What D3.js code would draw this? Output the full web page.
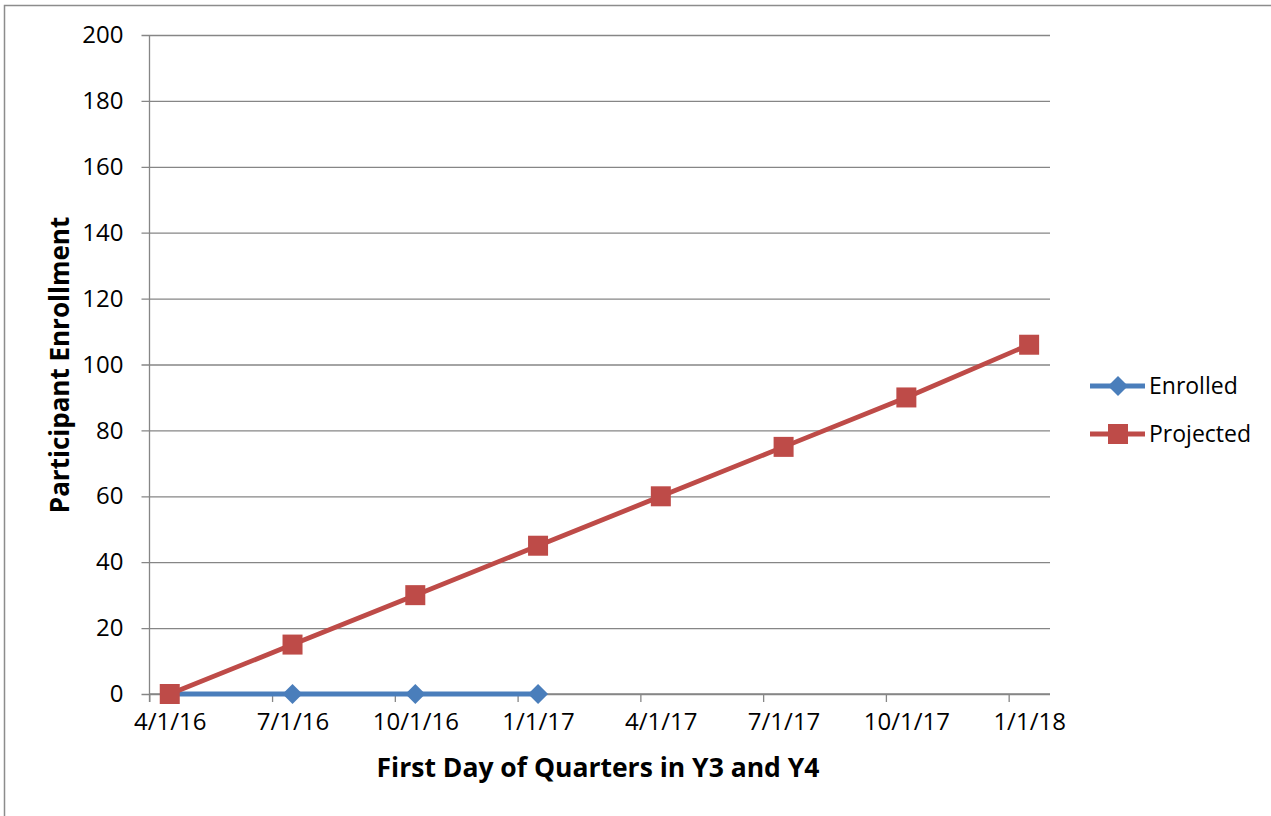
<!DOCTYPE html>
<html><head><meta charset="utf-8">
<script src="https://cdn.jsdelivr.net/npm/d3@7"></script>
<style>body{margin:0;background:#fff;} text{font-family:"Open Sans",sans-serif;}</style>
</head><body>
<svg id="c" width="1271" height="816"></svg>
<script>
const dateLabels = ["4/1/16","7/1/16","10/1/16","1/1/17","4/1/17","7/1/17","10/1/17","1/1/18"];
const enrolled = [0,0,0,0];
const projected = [0,15,30,45,60,75,90,106];
const yTicks = [0,20,40,60,80,100,120,140,160,180,200];
const seriesNames = ["Enrolled","Projected"];
const colors = ["#4a7ebb","#be4b48"];

(function(){
const svg = d3.select("#c");
svg.append("rect").attr("x",4.5).attr("y",5.5).attr("width",1300).attr("height",900)
  .attr("fill","none").attr("stroke","#8c8c8c").attr("stroke-width",1.5);

const pL=149.5, pR=1050, pT=35, pB=694;
const x = d3.scaleLinear().domain([-0.165, 7.17]).range([pL, pR]);
const y = d3.scaleLinear().domain([0,200]).range([pB, pT]);

// gridlines + y labels
const yAxis = d3.axisLeft(y).tickValues(yTicks).tickSize(-(pR-pL)).tickPadding(26);
const gy = svg.append("g").attr("transform",`translate(${pL},0)`).call(yAxis);
gy.select(".domain").remove();
gy.selectAll(".tick line").attr("stroke","#868686").attr("stroke-width",1.3).attr("x1",-8);
gy.selectAll(".tick text").attr("font-size",24).attr("fill","#000").attr("font-family","Open Sans");
svg.append("line").attr("x1",pL).attr("x2",pL).attr("y1",pT).attr("y2",pB+8)
  .attr("stroke","#868686").attr("stroke-width",1.3);

// x axis: tick marks offset, labels at points
const idx = d3.range(dateLabels.length);
const gxT = svg.append("g").attr("transform",`translate(0,${pB})`)
  .call(d3.axisBottom(x).tickValues(idx.map(i=>i-1/6)).tickSize(8).tickFormat(""));
gxT.select(".domain").attr("stroke","#868686").attr("stroke-width",1.3).attr("d",`M${pL},0H${pR}`);
gxT.selectAll(".tick line").attr("stroke","#868686").attr("stroke-width",1.3);
const gxL = svg.append("g").attr("transform",`translate(0,${pB})`)
  .call(d3.axisBottom(x).tickValues(idx).tickSize(0).tickPadding(19).tickFormat(i=>dateLabels[i]));
gxL.select(".domain").remove();
gxL.selectAll(".tick text").attr("font-size",24).attr("fill","#000").attr("font-family","Open Sans");

// lines
const line = d3.line().x((d,i)=>x(i)).y(d=>y(d));
svg.append("path").datum(enrolled).attr("d",line).attr("fill","none")
  .attr("stroke",colors[0]).attr("stroke-width",4.8);
svg.append("path").datum(projected).attr("d",line).attr("fill","none")
  .attr("stroke",colors[1]).attr("stroke-width",4.8);

svg.selectAll(".pe").data(enrolled).join("path")
  .attr("d",d3.symbol().type(d3.symbolSquare).size(200))
  .attr("transform",(d,i)=>`translate(${x(i)},${y(d)}) rotate(45)`)
  .attr("fill",colors[0]);
svg.selectAll(".pp").data(projected).join("rect")
  .attr("x",(d,i)=>x(i)-10).attr("y",d=>y(d)-10).attr("width",20).attr("height",20)
  .attr("fill",colors[1]);

// legend
const lg = svg.append("g");
[386,434].forEach((ly,k)=>{
  lg.append("line").attr("x1",1090).attr("x2",1145).attr("y1",ly).attr("y2",ly)
    .attr("stroke",colors[k]).attr("stroke-width",4.8);
  if(k===0){
    lg.append("path").attr("d",d3.symbol().type(d3.symbolSquare).size(200)())
      .attr("transform",`translate(1118,${ly}) rotate(45)`).attr("fill",colors[0]);
  } else {
    lg.append("rect").attr("x",1108).attr("y",ly-10).attr("width",20).attr("height",20).attr("fill",colors[1]);
  }
  lg.append("text").attr("x",1149).attr("y",ly).attr("dy","0.35em").attr("font-size",23)
    .text(seriesNames[k]);
});

// axis titles
svg.append("text").attr("x",598).attr("y",768).attr("dy","0.35em").attr("text-anchor","middle")
  .attr("font-weight","bold").attr("font-size",26.5).text("First Day of Quarters in Y3 and Y4");
svg.append("text").attr("transform","translate(60,365) rotate(-90)").attr("dy","0.35em")
  .attr("text-anchor","middle").attr("font-weight","bold").attr("font-size",26).text("Participant Enrollment");
})();
</script>
</body></html>
